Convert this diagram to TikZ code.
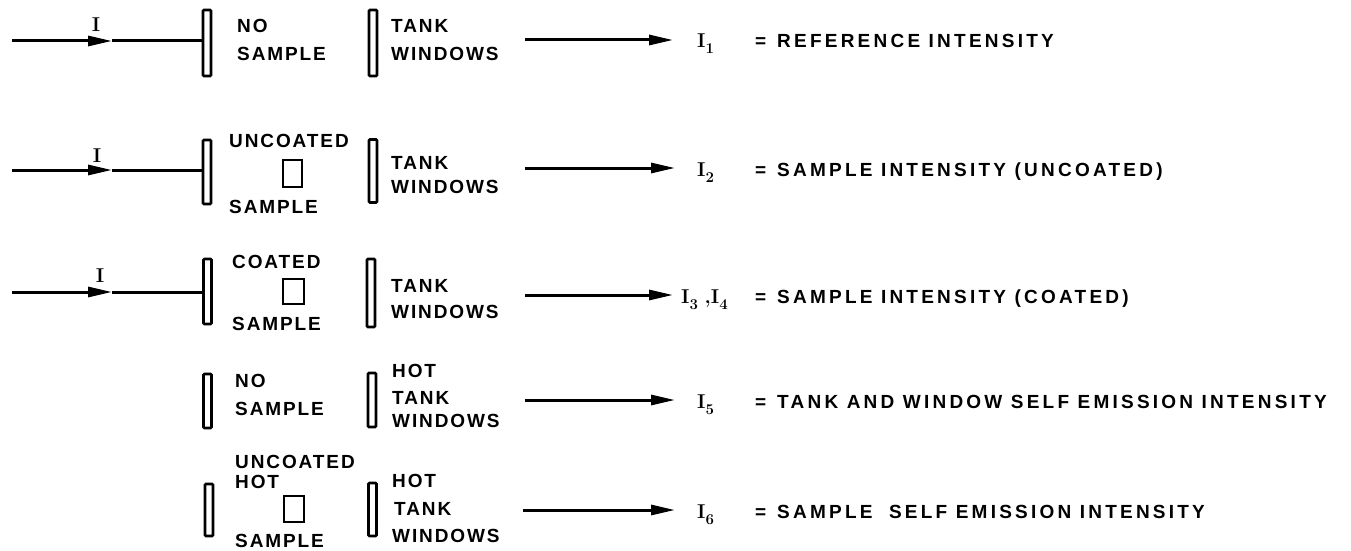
\documentclass[tikz,border=0pt]{standalone}
\usepackage{fontspec}
\usetikzlibrary{arrows.meta}
\newfontfamily\lettL[LetterSpace=10]{Liberation Sans}
\newfontfamily\lettR[LetterSpace=17]{Liberation Sans}
\newcommand{\isub}[1]{\raisebox{-6pt}{\fontsize{15}{15}\selectfont #1}}
\tikzset{
  win/.style={draw, line width=2.6pt, minimum width=8pt, inner sep=0pt, rounded corners=1pt},
  sbox/.style={draw, line width=2.6pt, inner sep=0pt},
  lab/.style={anchor=base west, inner sep=0pt, font=\lettL\bfseries\fontsize{19}{19}\selectfont},
  rlab/.style={anchor=base west, inner sep=0pt, font=\lettR\bfseries\fontsize{19}{19}\selectfont},
  sym/.style={anchor=base west, inner sep=0pt, font=\bfseries\fontsize{20}{20}\selectfont},
  ln/.style={line width=3pt},
  arr/.style={line width=3pt, -{Triangle[length=24pt,width=10pt]}}
}
\begin{document}
\begin{tikzpicture}[x=1pt,y=-1pt]
\useasboundingbox (0,0) rectangle (1351,551);

% ---------- Row 1 ----------
\node[win, minimum height=66pt] (w1a) at (207,43) {};
\node[win, minimum height=66pt] (w1b) at (373,43) {};
\node[lab] (n1a) at (237,33) {NO};
\node[lab] (n1b) at (237,60) {SAMPLE};
\node[lab] (n1c) at (391,33) {TANK};
\node[lab] (n1d) at (391,60) {WINDOWS};
\coordinate (s1) at (12,41);
\coordinate (m1) at (112,41);
\draw[arr] (s1) -- (m1);
\draw[ln] (m1) -- (m1 -| w1a.west);
\node[sym, anchor=base] (i1) at (96,32) {I};
\coordinate (o1) at (525,40);
\coordinate (t1) at (673,40);
\draw[arr] (o1) -- (t1);
\node[sym] (I1) at (697,48) {I\isub{1}};
\node[rlab] (e1) at (755,48) {=};
\node[rlab] (r1) at (777,48) {REFERENCE INTENSITY};

% ---------- Row 2 ----------
\node[win, minimum height=64pt] (w2a) at (207,172) {};
\node[win, minimum height=63pt] (w2b) at (373,171) {};
\node[lab] (n2a) at (229,147) {UNCOATED};
\node[sbox, minimum width=19pt, minimum height=27pt] (b2) at (292.5,173.5) {};
\node[lab] (n2b) at (229,213) {SAMPLE};
\node[lab] (n2c) at (391,169) {TANK};
\node[lab] (n2d) at (391,193) {WINDOWS};
\coordinate (s2) at (12,170);
\coordinate (m2) at (112,170);
\draw[arr] (s2) -- (m2);
\draw[ln] (m2) -- (m2 -| w2a.west);
\node[sym, anchor=base] (i2) at (97,162) {I};
\coordinate (o2) at (525,168);
\coordinate (t2) at (675,168);
\draw[arr] (o2) -- (t2);
\node[sym] (I2) at (697,176) {I\isub{2}};
\node[rlab] (e2) at (755,176) {=};
\node[rlab] (r2) at (777,176) {SAMPLE INTENSITY (UNCOATED)};

% ---------- Row 3 ----------
\node[win, minimum height=65pt] (w3a) at (207.5,291.5) {};
\node[win, minimum height=68pt] (w3b) at (371,293) {};
\node[lab] (n3a) at (232,268) {COATED};
\node[sbox, minimum width=21pt, minimum height=25pt] (b3) at (293.5,291.5) {};
\node[lab] (n3b) at (232,330) {SAMPLE};
\node[lab] (n3c) at (391,292) {TANK};
\node[lab] (n3d) at (391,318) {WINDOWS};
\coordinate (s3) at (12,292);
\coordinate (m3) at (112,292);
\draw[arr] (s3) -- (m3);
\draw[ln] (m3) -- (m3 -| w3a.west);
\node[sym, anchor=base] (i3) at (100,282) {I};
\coordinate (o3) at (525,295);
\coordinate (t3) at (673,295);
\draw[arr] (o3) -- (t3);
\node[sym] (I3) at (681,303) {I\isub{3}\,\,,I\isub{4}};
\node[rlab] (e3) at (755,303) {=};
\node[rlab] (r3) at (777,303) {SAMPLE INTENSITY (COATED)};

% ---------- Row 4 ----------
\node[win, minimum height=54pt] (w4a) at (207.5,401) {};
\node[win, minimum height=54pt] (w4b) at (372,400) {};
\node[lab] (n4a) at (235,387) {NO};
\node[lab] (n4b) at (235,415) {SAMPLE};
\node[lab] (n4c) at (392,377) {HOT};
\node[lab] (n4d) at (392,404) {TANK};
\node[lab] (n4e) at (392,427) {WINDOWS};
\coordinate (o4) at (525,400);
\coordinate (t4) at (675,400);
\draw[arr] (o4) -- (t4);
\node[sym] (I5) at (697,408) {I\isub{5}};
\node[rlab] (e4) at (755,408) {=};
\node[rlab] (r4) at (777,408) {TANK AND WINDOW SELF EMISSION INTENSITY};

% ---------- Row 5 ----------
\node[win, minimum height=52pt] (w5a) at (209,510) {};
\node[win, minimum height=53pt] (w5b) at (372.5,509.5) {};
\node[lab] (n5a) at (235,468) {UNCOATED};
\node[lab] (n5b) at (235,488) {HOT};
\node[sbox, minimum width=20pt, minimum height=26pt] (b5) at (294,509) {};
\node[lab] (n5c) at (235,547) {SAMPLE};
\node[lab] (n5d) at (392,487) {HOT};
\node[lab] (n5e) at (394,515) {TANK};
\node[lab] (n5f) at (392,542) {WINDOWS};
\coordinate (o5) at (523,510);
\coordinate (t5) at (675,510);
\draw[arr] (o5) -- (t5);
\node[sym] (I6) at (697,518) {I\isub{6}};
\node[rlab] (e5) at (755,518) {=};
\node[rlab] (r5) at (777,518) {SAMPLE\hspace{8pt} SELF EMISSION INTENSITY};
\end{tikzpicture}
\end{document}
